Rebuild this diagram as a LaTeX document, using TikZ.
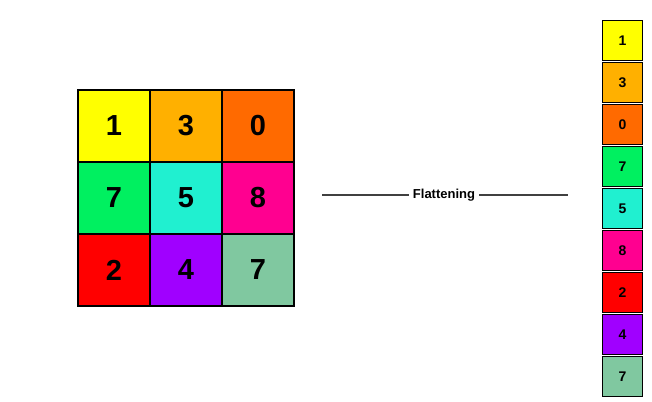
\documentclass[tikz,border=0pt]{standalone}
\usepackage{fontspec}
\setmainfont{Liberation Sans}
\begin{document}
\begin{tikzpicture}[x=1pt,y=-1pt,
  bigcell/.style={draw=black,line width=2.2pt,minimum size=72pt,inner sep=0pt,font=\fontsize{29}{30}\selectfont\bfseries},
  smallcell/.style={draw=black,line width=1.5pt,minimum size=40pt,inner sep=0pt,font=\fontsize{14}{15}\selectfont\bfseries},
  flatline/.style={draw=black!75,line width=2.6pt}]
\useasboundingbox (0,0) rectangle (652,401);
\definecolor{cA}{HTML}{FFFF00}
\definecolor{cB}{HTML}{FFB000}
\definecolor{cC}{HTML}{FF6A00}
\definecolor{cD}{HTML}{00F060}
\definecolor{cE}{HTML}{20F0D0}
\definecolor{cF}{HTML}{FF0090}
\definecolor{cG}{HTML}{FF0000}
\definecolor{cH}{HTML}{A000FF}
\definecolor{cI}{HTML}{80C8A0}
% left grid
\node[bigcell,fill=cA] (g1) at (114,126) {1};
\node[bigcell,fill=cB] (g2) at (186,126) {3};
\node[bigcell,fill=cC] (g3) at (258,126) {0};
\node[bigcell,fill=cD] (g4) at (114,198) {7};
\node[bigcell,fill=cE] (g5) at (186,198) {5};
\node[bigcell,fill=cF] (g6) at (258,198) {8};
\node[bigcell,fill=cG] (g7) at (114,270) {2};
\node[bigcell,fill=cH] (g8) at (186,270) {4};
\node[bigcell,fill=cI] (g9) at (258,270) {7};
% right column
\node[smallcell,fill=cA] (c1) at (622.5,40.5) {1};
\node[smallcell,fill=cB] (c2) at (622.5,82.5) {3};
\node[smallcell,fill=cC] (c3) at (622.5,124.5) {0};
\node[smallcell,fill=cD] (c4) at (622.5,166.5) {7};
\node[smallcell,fill=cE] (c5) at (622.5,208.5) {5};
\node[smallcell,fill=cF] (c6) at (622.5,250.5) {8};
\node[smallcell,fill=cG] (c7) at (622.5,292.5) {2};
\node[smallcell,fill=cH] (c8) at (622.5,334.5) {4};
\node[smallcell,fill=cI] (c9) at (622.5,376.5) {7};
% flattening label
\node[font=\fontsize{13}{14}\selectfont\bfseries,inner sep=4pt] (lab) at (444,195) {Flattening};
\coordinate (la) at (322,195);
\coordinate (lb) at (568,195);
\draw[flatline] (la) -- (lab.west);
\draw[flatline] (lab.east) -- (lb);
\end{tikzpicture}
\end{document}
